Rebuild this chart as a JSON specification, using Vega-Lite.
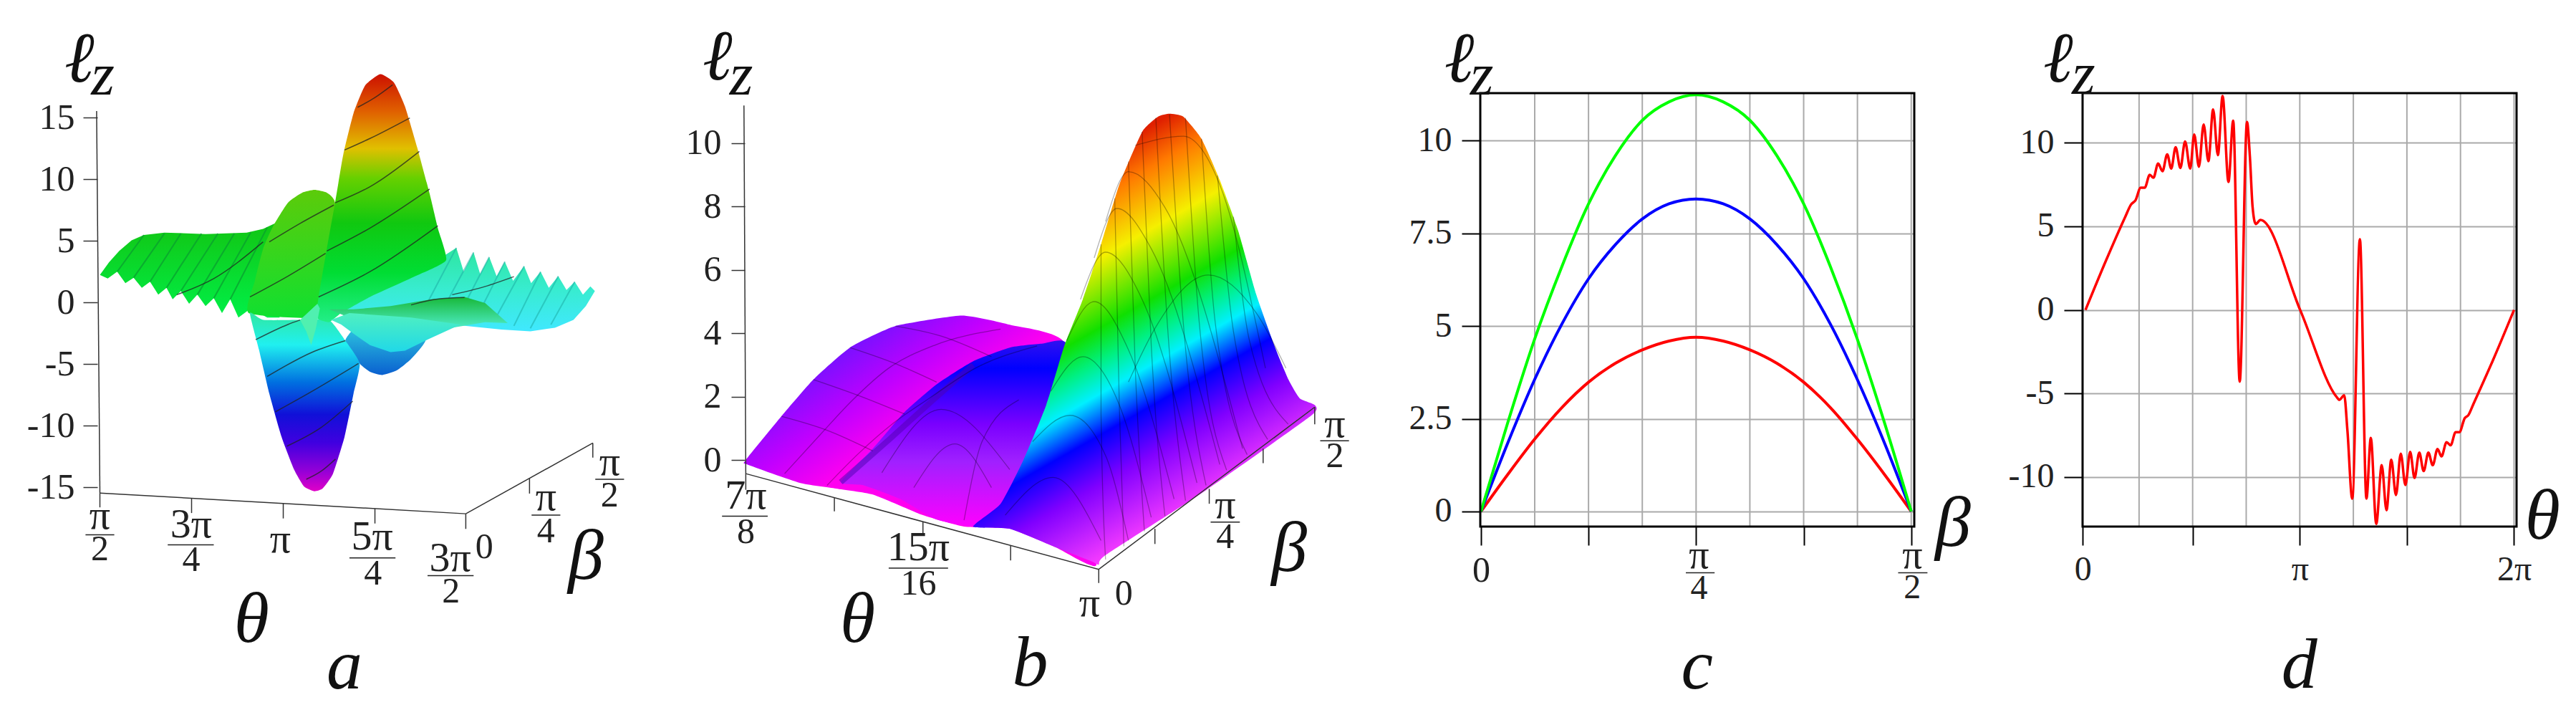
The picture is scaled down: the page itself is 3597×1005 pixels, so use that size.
{
  "$schema": "https://vega.github.io/schema/vega-lite/v6.json",
  "background": "white",
  "padding": {"left": 0, "top": 31, "right": 0, "bottom": 0},
  "bounds": "flush",
  "spacing": 235,
  "config": {
    "font": "Liberation Serif",
    "view": {"stroke": null},
    "axis": {"labelFont": "Liberation Serif", "labelFontSize": 50, "labelColor": "#222", "domain": false, "grid": false, "title": null, "labelExpr": "''+datum.value", "labelOverlap": false, "labelBound": false, "labelFlush": false}
  },
  "datasets": {
    "a_left": [{"u":24.3,"v":2.24},{"u":26.5,"v":3.25},{"u":29,"v":4.18},{"u":32,"v":5.04},{"u":35,"v":5.48},{"u":40,"v":5.67},{"u":50,"v":5.56},{"u":60,"v":5.67},{"u":64,"v":5.97},{"u":68,"v":6.6},{"u":68,"v":-1.23},{"u":65,"v":-1.23},{"u":61,"v":-0.48},{"u":58,"v":-1.23},{"u":56,"v":0.26},{"u":54,"v":-0.86},{"u":52,"v":0.34},{"u":50,"v":-0.3},{"u":48,"v":0.63},{"u":46,"v":-0.11},{"u":44,"v":0.93},{"u":42,"v":0.26},{"u":40.5,"v":1.19},{"u":38.5,"v":0.63},{"u":36.5,"v":1.68},{"u":34.5,"v":1.19},{"u":32.5,"v":2.01},{"u":30.5,"v":1.57},{"u":28.5,"v":2.5},{"u":26.2,"v":1.94}],
    "a_back": [{"u":60.5,"v":-0.86},{"u":62,"v":1.75},{"u":64,"v":4.36},{"u":66.5,"v":6.23},{"u":70,"v":8.09},{"u":73.5,"v":8.91},{"u":76.5,"v":9.14},{"u":79.5,"v":8.91},{"u":81.5,"v":8.09},{"u":81.5,"v":3.62},{"u":79,"v":0.63},{"u":77,"v":-1.23}],
    "a_right": [{"u":108,"v":3.8},{"u":111,"v":4.44},{"u":112.8,"v":2.5},{"u":115.2,"v":4.07},{"u":116.8,"v":2.31},{"u":119,"v":3.69},{"u":120.8,"v":2.13},{"u":122.8,"v":3.32},{"u":124.8,"v":1.75},{"u":127.5,"v":2.95},{"u":129.2,"v":1.57},{"u":131.5,"v":2.5},{"u":133.5,"v":1.19},{"u":135.8,"v":2.13},{"u":137.8,"v":1.01},{"u":139.8,"v":1.68},{"u":141.8,"v":0.63},{"u":143.6,"v":1.31},{"u":144.7,"v":0.93},{"u":142.5,"v":-0.3},{"u":139.5,"v":-1.42},{"u":135,"v":-2.05},{"u":129,"v":-2.35},{"u":122,"v":-2.2},{"u":110,"v":-1.79},{"u":95,"v":-1.23},{"u":85,"v":-0.86},{"u":80,"v":-0.48},{"u":100,"v":2.13}],
    "a_main": [{"u":77,"v":-1.23},{"u":77.5,"v":0.45},{"u":79.5,"v":4.36},{"u":81.5,"v":8.09},{"u":83.5,"v":12.01},{"u":86,"v":15.37},{"u":88.8,"v":17.61},{"u":92.5,"v":18.54},{"u":95.8,"v":17.87},{"u":98.5,"v":15.93},{"u":101.5,"v":12.57},{"u":104.5,"v":8.84},{"u":106.5,"v":6.04},{"u":108.5,"v":3.43},{"u":101,"v":2.13},{"u":90,"v":0.45},{"u":83,"v":-0.86},{"u":80,"v":-1.6}],
    "a_smallneg": [{"u":84,"v":-3.1},{"u":87.5,"v":-4.96},{"u":90,"v":-5.63},{"u":93,"v":-5.89},{"u":96.5,"v":-5.52},{"u":100,"v":-4.59},{"u":103.5,"v":-3.02},{"u":96,"v":-2.35},{"u":88,"v":-1.6}],
    "a_neg": [{"u":60.8,"v":-0.86},{"u":64,"v":-1.42},{"u":73,"v":-1.42},{"u":80,"v":-1.42},{"u":84,"v":-3.1},{"u":87.5,"v":-4.96},{"u":86,"v":-7.39},{"u":83.8,"v":-10.93},{"u":81,"v":-13.91},{"u":78.5,"v":-15.1},{"u":76.5,"v":-15.33},{"u":74,"v":-14.96},{"u":71.5,"v":-13.54},{"u":68.5,"v":-10.93},{"u":65.5,"v":-7.39},{"u":63,"v":-3.84}],
    "a_spike": [{"u":73,"v":-1.42},{"u":74.5,"v":-2.35},{"u":75.7,"v":-3.47},{"u":76.8,"v":-2.16},{"u":77.8,"v":-0.48},{"u":77.2,"v":-0.11}],
    "a_flapgreen": [{"u":80,"v":-0.56},{"u":86,"v":-0.56},{"u":95,"v":-0.3},{"u":105,"v":0.26},{"u":113,"v":0.45},{"u":118,"v":-0.04},{"u":123.5,"v":-1.68},{"u":118,"v":-1.6},{"u":110,"v":-2.05},{"u":100,"v":-2.16},{"u":90,"v":-1.9}],
    "a_flapteal": [{"u":80.5,"v":-1.42},{"u":85,"v":-0.86},{"u":100,"v":-1.23},{"u":112,"v":-1.79},{"u":104,"v":-3.02},{"u":98.5,"v":-3.92},{"u":95,"v":-4.03},{"u":90,"v":-3.47},{"u":86,"v":-2.54},{"u":83,"v":-1.79}],
    "a_ridges": [{"id":1,"u":28.5,"v":2.5},{"id":1,"u":35,"v":5.48},{"id":2,"u":32.5,"v":2.01},{"id":2,"u":40,"v":5.6},{"id":3,"u":36.5,"v":1.68},{"id":3,"u":44,"v":5.6},{"id":4,"u":40.5,"v":1.19},{"id":4,"u":49,"v":5.6},{"id":5,"u":44,"v":0.93},{"id":5,"u":53,"v":5.6},{"id":6,"u":48,"v":0.63},{"id":6,"u":57,"v":5.6},{"id":7,"u":52,"v":0.34},{"id":7,"u":61,"v":5.7},{"id":8,"u":56,"v":0.26},{"id":8,"u":65,"v":6.1}],
    "a_ridgesright": [{"id":1,"u":111,"v":4.44},{"id":1,"u":104,"v":0},{"id":2,"u":115.2,"v":4.07},{"id":2,"u":108,"v":-0.4},{"id":3,"u":119,"v":3.69},{"id":3,"u":112,"v":-0.8},{"id":4,"u":122.8,"v":3.32},{"id":4,"u":116,"v":-1.2},{"id":5,"u":127.5,"v":2.95},{"id":5,"u":120,"v":-1.6},{"id":6,"u":131.5,"v":2.5},{"id":6,"u":125,"v":-1.9},{"id":7,"u":135.8,"v":2.13},{"id":7,"u":129,"v":-2.1},{"id":8,"u":139.8,"v":1.68},{"id":8,"u":134,"v":-1.8}],
    "a_iso": [{"id":1,"u":87,"v":15.85},{"id":1,"u":91,"v":16.6},{"id":1,"u":95.5,"v":17.68},{"id":2,"u":83.8,"v":12.38},{"id":2,"u":90,"v":13.32},{"id":2,"u":99.7,"v":14.99},{"id":3,"u":81.5,"v":8.09},{"id":3,"u":90,"v":9.4},{"id":3,"u":102,"v":12.27},{"id":4,"u":79.5,"v":4.18},{"id":4,"u":90,"v":6.04},{"id":4,"u":104.5,"v":9.21},{"id":5,"u":77.5,"v":0.45},{"id":5,"u":90,"v":2.5},{"id":5,"u":106.5,"v":6.23},{"id":6,"u":65.5,"v":4.92},{"id":6,"u":73,"v":6.42},{"id":6,"u":81.2,"v":7.91},{"id":7,"u":60.8,"v":0.45},{"id":7,"u":70,"v":2.13},{"id":7,"u":79.2,"v":3.99},{"id":8,"u":62.2,"v":-3.02},{"id":8,"u":70,"v":-1.79},{"id":8,"u":73,"v":-1.42},{"id":9,"u":65,"v":-6.01},{"id":9,"u":76,"v":-4.03},{"id":9,"u":84,"v":-3.1},{"id":10,"u":67,"v":-8.88},{"id":10,"u":76,"v":-7.2},{"id":10,"u":87.2,"v":-4.96},{"id":11,"u":69.8,"v":-11.67},{"id":11,"u":78,"v":-10.18},{"id":11,"u":85.8,"v":-8.02},{"id":12,"u":74.5,"v":-14.36},{"id":12,"u":78,"v":-13.73},{"id":12,"u":81.6,"v":-12.72},{"id":13,"u":43,"v":0.63},{"id":13,"u":52,"v":1.94},{"id":13,"u":64,"v":4.92},{"id":14,"u":110,"v":0.63},{"id":14,"u":118,"v":1.3},{"id":14,"u":125,"v":2.1},{"id":15,"u":100,"v":-0.2},{"id":15,"u":107,"v":0.3},{"id":15,"u":113,"v":0.4}],
    "a_axes": [{"id":"z","u":23.5,"v":15.55},{"id":"z","u":24.3,"v":-15.48},{"id":"th","u":24.3,"v":-15.48},{"id":"th","u":113.3,"v":-17.16},{"id":"be","u":113.3,"v":-17.16},{"id":"be","u":144.2,"v":-11.42},{"id":"t1","u":24.3,"v":-15.48},{"id":"t1","u":24.3,"v":-16.64},{"id":"t2","u":46.6,"v":-15.9},{"id":"t2","u":46.6,"v":-17.1},{"id":"t3","u":68.9,"v":-16.33},{"id":"t3","u":68.9,"v":-17.54},{"id":"t4","u":91.2,"v":-16.74},{"id":"t4","u":91.2,"v":-17.95},{"id":"t5","u":113.3,"v":-17.16},{"id":"t5","u":113.3,"v":-18.39},{"id":"b2","u":128.8,"v":-14.29},{"id":"b2","u":128.8,"v":-15.52},{"id":"b3","u":144.2,"v":-11.42},{"id":"b3","u":144.2,"v":-12.6}],
    "a_bars": [{"u":20.8,"u2":27.8,"v":-18.87},{"u":40.8,"u2":52,"v":-19.69},{"u":85,"u2":96.2,"v":-20.74},{"u":104,"u2":115.2,"v":-22.19},{"u":129.3,"u2":136.3,"v":-17.27},{"u":144.8,"u2":151.8,"v":-14.36}],
    "a_labels": [{"t":"π","u":24.3,"v":-17.4},{"t":"2","u":24.3,"v":-20.07},{"t":"3π","u":46.5,"v":-18.1},{"t":"4","u":46.5,"v":-20.93},{"t":"π","u":68.2,"v":-19.3},{"t":"5π","u":90.5,"v":-19.1},{"t":"4","u":90.7,"v":-22.04},{"t":"3π","u":109.5,"v":-20.8},{"t":"2","u":109.7,"v":-23.5},{"t":"0","u":117.8,"v":-19.88},{"t":"π","u":132.8,"v":-15.9},{"t":"4","u":132.8,"v":-18.58},{"t":"π","u":148.3,"v":-13},{"t":"2","u":148.3,"v":-15.7}],
    "a_syms": [{"t":"ℓ","u":19.3,"v":19.66},{"t":"z","u":25,"v":18.35},{"t":"θ","u":61.2,"v":-25.85},{"t":"β","u":142.5,"v":-20.7},{"t":"a","u":83.8,"v":-29.6}],
    "b_base": [{"u":22.2,"v":0},{"u":30,"v":1.38},{"u":37,"v":2.54},{"u":45,"v":3.55},{"u":55,"v":4.23},{"u":69.5,"v":4.56},{"u":80,"v":4.27},{"u":92,"v":3.69},{"u":90,"v":0},{"u":99,"v":-3.3},{"u":90,"v":-2.75},{"u":80,"v":-2.17},{"u":70,"v":-2.1},{"u":61,"v":-1.74},{"u":50,"v":-1.09},{"u":42,"v":-0.9},{"u":34,"v":-0.72},{"u":22.5,"v":-0.14}],
    "b_hump": [{"u":43,"v":-0.7},{"u":50,"v":0.36},{"u":57,"v":1.52},{"u":64,"v":2.39},{"u":72,"v":3.12},{"u":80,"v":3.55},{"u":87,"v":3.67},{"u":92.5,"v":3.62},{"u":90,"v":0},{"u":88,"v":-0.72},{"u":78,"v":-1.45},{"u":73,"v":-2.1},{"u":64,"v":-1.88},{"u":56,"v":-1.23},{"u":48,"v":-0.8}],
    "b_shadow": [{"u":43,"v":-0.7},{"u":54,"v":0.7},{"u":62,"v":1.74},{"u":72,"v":3}],
    "b_peak": [{"u":72,"v":-2.1},{"u":78,"v":-1.38},{"u":83,"v":0},{"u":88,"v":1.74},{"u":92,"v":3.62},{"u":96,"v":5.07},{"u":100,"v":6.81},{"u":104,"v":8.69},{"u":109,"v":10.36},{"u":112.5,"v":10.84},{"u":115,"v":10.93},{"u":118,"v":10.84},{"u":122,"v":10.14},{"u":126,"v":8.84},{"u":130,"v":7.25},{"u":134,"v":5.22},{"u":138,"v":3.6},{"u":141,"v":2.55},{"u":143.5,"v":1.95},{"u":146.8,"v":1.74},{"u":146,"v":1.4},{"u":123,"v":-0.95},{"u":101,"v":-3},{"u":99.5,"v":-3.3},{"u":98,"v":-3.2},{"u":90,"v":-2.75},{"u":80,"v":-2.17}],
    "b_mesh": [{"id":"a1","u":79,"v":-1.74},{"id":"a1","u":89.5,"v":-0.55},{"id":"a1","u":100,"v":-2.54},{"id":"a2","u":85,"v":0.58},{"id":"a2","u":93.2,"v":1.41},{"id":"a2","u":101,"v":0.14},{"id":"a2","u":106,"v":-2.54},{"id":"a3","u":89,"v":2.17},{"id":"a3","u":96,"v":3.26},{"id":"a3","u":104,"v":1.74},{"id":"a3","u":111,"v":-1.81},{"id":"a4","u":92.5,"v":3.77},{"id":"a4","u":98.5,"v":5},{"id":"a4","u":106,"v":3.48},{"id":"a4","u":116,"v":-1.23},{"id":"a5","u":95.5,"v":5.07},{"id":"a5","u":101,"v":6.56},{"id":"a5","u":109,"v":5.07},{"id":"a5","u":121,"v":-0.72},{"id":"a6","u":98.5,"v":6.38},{"id":"a6","u":103.5,"v":7.94},{"id":"a6","u":111,"v":6.67},{"id":"a6","u":126,"v":-0.14},{"id":"a7","u":101,"v":7.53},{"id":"a7","u":106,"v":9.1},{"id":"a7","u":114,"v":7.97},{"id":"a7","u":131,"v":0.36},{"id":"a8","u":107.5,"v":9.93},{"id":"a8","u":118,"v":10.22},{"id":"a8","u":126,"v":8.69},{"id":"a8","u":136,"v":2.9},{"id":"a9","u":106,"v":2.46},{"id":"a9","u":112,"v":4.2},{"id":"a9","u":123.5,"v":5.84},{"id":"a9","u":134,"v":4.64},{"id":"a9","u":140.5,"v":2.9},{"id":"m1","u":100,"v":6.81},{"id":"m1","u":100,"v":1.45},{"id":"m1","u":101,"v":-3.14},{"id":"m2","u":103,"v":8.26},{"id":"m2","u":104,"v":1.74},{"id":"m2","u":105,"v":-2.72},{"id":"m3","u":106,"v":9.42},{"id":"m3","u":107.5,"v":2.9},{"id":"m3","u":109.5,"v":-2.25},{"id":"m4","u":109,"v":10.36},{"id":"m4","u":111,"v":3.62},{"id":"m4","u":114,"v":-1.77},{"id":"m5","u":112,"v":10.8},{"id":"m5","u":114.5,"v":4.35},{"id":"m5","u":118.5,"v":-1.28},{"id":"m6","u":115,"v":10.91},{"id":"m6","u":118,"v":4.35},{"id":"m6","u":123,"v":-0.8},{"id":"m7","u":118.5,"v":10.8},{"id":"m7","u":121.5,"v":4.35},{"id":"m7","u":127.5,"v":-0.32},{"id":"m8","u":122,"v":10.14},{"id":"m8","u":125,"v":4.35},{"id":"m8","u":132,"v":0.17},{"id":"m9","u":125.5,"v":8.98},{"id":"m9","u":129,"v":4.06},{"id":"m9","u":136.5,"v":0.65},{"id":"m10","u":129,"v":7.68},{"id":"m10","u":132.5,"v":3.77},{"id":"m10","u":141,"v":1.13},{"id":"l1","u":30.7,"v":-0.43},{"id":"l1","u":38.5,"v":0.8},{"id":"l1","u":45.5,"v":1.88},{"id":"l1","u":53.5,"v":2.9},{"id":"l1","u":63.5,"v":3.62},{"id":"l1","u":78,"v":4.13},{"id":"l2","u":40,"v":-0.8},{"id":"l2","u":47,"v":0.22},{"id":"l2","u":54.5,"v":1.16},{"id":"l2","u":62.5,"v":1.96},{"id":"l2","u":72.5,"v":2.9},{"id":"l2","u":86,"v":3.6},{"id":"c1","u":30,"v":1.38},{"id":"c1","u":40,"v":0.94},{"id":"c1","u":50,"v":0.29},{"id":"c2","u":37,"v":2.54},{"id":"c2","u":47,"v":2.03},{"id":"c2","u":57,"v":1.45},{"id":"c3","u":45,"v":3.55},{"id":"c3","u":55,"v":3.04},{"id":"c3","u":64,"v":2.46},{"id":"c4","u":55,"v":4.23},{"id":"c4","u":65,"v":3.91},{"id":"c4","u":76,"v":3.26},{"id":"h1","u":59,"v":-0.87},{"id":"h1","u":68,"v":0.51},{"id":"h1","u":76,"v":-0.87},{"id":"h2","u":52,"v":-0.4},{"id":"h2","u":65,"v":1.6},{"id":"h2","u":80,"v":-0.3},{"id":"h3","u":70,"v":-1.9},{"id":"h3","u":74,"v":0.6},{"id":"h3","u":82,"v":1.9}],
    "b_axes": [{"id":"z","u":21.8,"v":11.19},{"id":"z","u":22.2,"v":-0.43},{"id":"th","u":22.2,"v":-0.43},{"id":"th","u":99.5,"v":-3.45},{"id":"be","u":99.5,"v":-3.45},{"id":"be","u":146.8,"v":1.67},{"id":"t1","u":22.2,"v":-0.43},{"id":"t1","u":22.2,"v":-0.94},{"id":"t2","u":41.6,"v":-1.19},{"id":"t2","u":41.6,"v":-1.62},{"id":"t3","u":61,"v":-1.96},{"id":"t3","u":61,"v":-2.39},{"id":"t4","u":80.2,"v":-2.71},{"id":"t4","u":80.2,"v":-3.17},{"id":"t5","u":99.5,"v":-3.45},{"id":"t5","u":99.5,"v":-3.88},{"id":"b1","u":111.8,"v":-2.17},{"id":"b1","u":111.8,"v":-2.65},{"id":"b2","u":123.7,"v":-0.91},{"id":"b2","u":123.7,"v":-1.38},{"id":"b3","u":135.5,"v":0.36},{"id":"b3","u":135.5,"v":-0.1},{"id":"b4","u":146.8,"v":1.67},{"id":"b4","u":146.8,"v":1.13}],
    "b_bars": [{"u":17,"u2":27,"v":-1.77},{"u":53.5,"u2":66.5,"v":-3.41},{"u":124,"u2":130.4,"v":-1.96},{"u":148,"u2":154.3,"v":0.61}],
    "b_labels": [{"t":"7π","u":22.2,"v":-1.15},{"t":"8","u":22.2,"v":-2.29},{"t":"15π","u":60,"v":-2.78},{"t":"16","u":60,"v":-3.91},{"t":"π","u":97.5,"v":-4.55},{"t":"0","u":105,"v":-4.23},{"t":"π","u":127.2,"v":-1.44},{"t":"4","u":127.2,"v":-2.43},{"t":"π","u":151.2,"v":1.1},{"t":"2","u":151.2,"v":0.12}],
    "b_syms": [{"t":"ℓ","u":16,"v":12.68},{"t":"z","u":21.2,"v":12.1},{"t":"θ","u":46.7,"v":-5.07},{"t":"β","u":141.2,"v":-2.83},{"t":"b","u":84.5,"v":-6.45}],
    "c_frame": [{"beta":-0.0024,"beta2":1.5819,"lz":-0.406,"lz2":11.285}],
    "c_grid": [{"beta":0.1963,"lz":-0.4,"lz2":11.28},{"beta":0.3927,"lz":-0.4,"lz2":11.28},{"beta":0.589,"lz":-0.4,"lz2":11.28},{"beta":0.7854,"lz":-0.4,"lz2":11.28},{"beta":0.9817,"lz":-0.4,"lz2":11.28},{"beta":1.1781,"lz":-0.4,"lz2":11.28},{"beta":1.3744,"lz":-0.4,"lz2":11.28},{"beta":1.5708,"lz":-0.4,"lz2":11.28}],
    "c_curves": [{"curve":"red","beta":0,"lz":0},{"curve":"red","beta":0.098,"lz":1},{"curve":"red","beta":0.196,"lz":1.95},{"curve":"red","beta":0.295,"lz":2.8},{"curve":"red","beta":0.393,"lz":3.49},{"curve":"red","beta":0.491,"lz":4},{"curve":"red","beta":0.589,"lz":4.36},{"curve":"red","beta":0.687,"lz":4.6},{"curve":"red","beta":0.785,"lz":4.7},{"curve":"red","beta":0.884,"lz":4.6},{"curve":"red","beta":0.982,"lz":4.36},{"curve":"red","beta":1.08,"lz":4},{"curve":"red","beta":1.178,"lz":3.49},{"curve":"red","beta":1.276,"lz":2.8},{"curve":"red","beta":1.374,"lz":1.95},{"curve":"red","beta":1.473,"lz":1},{"curve":"red","beta":1.571,"lz":0},
      {"curve":"blue","beta":0,"lz":0},{"curve":"blue","beta":0.098,"lz":1.85},{"curve":"blue","beta":0.196,"lz":3.56},{"curve":"blue","beta":0.295,"lz":5.05},{"curve":"blue","beta":0.393,"lz":6.28},{"curve":"blue","beta":0.491,"lz":7.2},{"curve":"blue","beta":0.589,"lz":7.89},{"curve":"blue","beta":0.687,"lz":8.3},{"curve":"blue","beta":0.785,"lz":8.43},{"curve":"blue","beta":0.884,"lz":8.3},{"curve":"blue","beta":0.982,"lz":7.89},{"curve":"blue","beta":1.08,"lz":7.2},{"curve":"blue","beta":1.178,"lz":6.28},{"curve":"blue","beta":1.276,"lz":5.05},{"curve":"blue","beta":1.374,"lz":3.56},{"curve":"blue","beta":1.473,"lz":1.85},{"curve":"blue","beta":1.571,"lz":0},
      {"curve":"green","beta":0,"lz":0},{"curve":"green","beta":0.098,"lz":2.4},{"curve":"green","beta":0.196,"lz":4.65},{"curve":"green","beta":0.295,"lz":6.6},{"curve":"green","beta":0.393,"lz":8.3},{"curve":"green","beta":0.491,"lz":9.6},{"curve":"green","beta":0.589,"lz":10.55},{"curve":"green","beta":0.687,"lz":11.05},{"curve":"green","beta":0.785,"lz":11.24},{"curve":"green","beta":0.884,"lz":11.05},{"curve":"green","beta":0.982,"lz":10.55},{"curve":"green","beta":1.08,"lz":9.6},{"curve":"green","beta":1.178,"lz":8.3},{"curve":"green","beta":1.276,"lz":6.6},{"curve":"green","beta":1.374,"lz":4.65},{"curve":"green","beta":1.473,"lz":2.4},{"curve":"green","beta":1.571,"lz":0}],
    "c_bars": [{"beta":0.748,"beta2":0.853,"lz":-1.65},{"beta":1.523,"beta2":1.63,"lz":-1.65}],
    "c_labels": [{"t":"π","beta":0.796,"lz":-1.2},{"t":"4","beta":0.796,"lz":-2.08},{"t":"π","beta":1.575,"lz":-1.2},{"t":"2","beta":1.575,"lz":-2.06}],
    "c_syms": [{"t":"ℓ","beta":-0.0795,"lz":12.17},{"t":"z","beta":0.003,"lz":11.73},{"t":"β","beta":1.723,"lz":-0.35},{"t":"c","beta":0.789,"lz":-4.2}],
    "d_frame": [{"theta":-0.043,"theta2":6.32,"lz":-12.96,"lz2":12.97}],
    "d_grid": [{"theta":0.7854,"lz":-12.95,"lz2":12.96},{"theta":1.5708,"lz":-12.95,"lz2":12.96},{"theta":2.3562,"lz":-12.95,"lz2":12.96},{"theta":3.1416,"lz":-12.95,"lz2":12.96},{"theta":3.927,"lz":-12.95,"lz2":12.96},{"theta":4.7124,"lz":-12.95,"lz2":12.96},{"theta":5.4978,"lz":-12.95,"lz2":12.96},{"theta":6.2832,"lz":-12.95,"lz2":12.96}],
    "d_curve": [{"theta":0,"lz":0},{"theta":0.3,"lz":2.95},{"theta":0.586,"lz":5.6},{"theta":0.665,"lz":6.29},{"theta":0.734,"lz":6.57},{"theta":0.809,"lz":7.31},{"theta":0.868,"lz":7.31},{"theta":0.942,"lz":8.08},{"theta":0.996,"lz":7.91},{"theta":1.065,"lz":8.76},{"theta":1.129,"lz":8.3},{"theta":1.198,"lz":9.31},{"theta":1.257,"lz":8.46},{"theta":1.321,"lz":9.73},{"theta":1.391,"lz":8.49},{"theta":1.46,"lz":10.08},{"theta":1.535,"lz":8.46},{"theta":1.594,"lz":10.49},{"theta":1.663,"lz":8.57},{"theta":1.732,"lz":11.1},{"theta":1.802,"lz":8.9},{"theta":1.871,"lz":12},{"theta":1.941,"lz":9.26},{"theta":2.01,"lz":12.8},{"theta":2.096,"lz":7.66},{"theta":2.165,"lz":11.32},{"theta":2.261,"lz":-4.29},{"theta":2.368,"lz":11.24},{"theta":2.41,"lz":9.18},{"theta":2.45,"lz":6.15},{"theta":2.496,"lz":5.14},{"theta":2.565,"lz":5.38},{"theta":3.147,"lz":0},{"theta":3.69,"lz":-5.25},{"theta":3.72,"lz":-5.38},{"theta":3.793,"lz":-5.11},{"theta":3.84,"lz":-7.2},{"theta":3.911,"lz":-11.29},{"theta":4.023,"lz":4.23},{"theta":4.119,"lz":-11.29},{"theta":4.183,"lz":-7.66},{"theta":4.263,"lz":-12.8},{"theta":4.343,"lz":-9.29},{"theta":4.413,"lz":-11.98},{"theta":4.483,"lz":-8.96},{"theta":4.552,"lz":-11.07},{"theta":4.622,"lz":-8.6},{"theta":4.69,"lz":-10.47},{"theta":4.76,"lz":-8.49},{"theta":4.824,"lz":-10.05},{"theta":4.894,"lz":-8.54},{"theta":4.958,"lz":-9.64},{"theta":5.027,"lz":-8.54},{"theta":5.091,"lz":-9.29},{"theta":5.161,"lz":-8.32},{"theta":5.219,"lz":-8.76},{"theta":5.294,"lz":-7.91},{"theta":5.353,"lz":-8.1},{"theta":5.427,"lz":-7.31},{"theta":5.481,"lz":-7.31},{"theta":5.56,"lz":-6.48},{"theta":5.614,"lz":-6.29},{"theta":5.684,"lz":-5.66},{"theta":5.98,"lz":-2.95},{"theta":6.283,"lz":0}],
    "d_syms": [{"t":"ℓ","theta":-0.403,"lz":14.95},{"t":"z","theta":-0.03,"lz":13.98},{"t":"θ","theta":6.7,"lz":-12.39},{"t":"d","theta":3.136,"lz":-21.3}]
  },
  "hconcat": [
    {
      "width": 800,
      "height": 605,
      "encoding": {
        "x": {"field": "u", "type": "quantitative", "axis": null, "scale": {"domain": [0, 139.36], "nice": false, "zero": false}},
        "y": {"field": "v", "type": "quantitative", "scale": {"domain": [-18.2, 17], "nice": false, "zero": false},
          "axis": {"values": [-15, -10, -5, 0, 5, 10, 15], "offset": -136, "tickSize": 20, "tickColor": "#333", "tickWidth": 1.5, "labelPadding": 12}}
      },
      "layer": [
        {"data": {"name": "a_left"}, "transform": [{"window": [{"op": "row_number", "as": "i"}]}], "mark": {"type": "line", "strokeWidth": 0, "fill": {"gradient": "linear", "x1": 0, "y1": 0, "x2": 0, "y2": 1, "stops": [{"offset": 0, "color": "#12c412"}, {"offset": 1, "color": "#00f048"}]}}, "encoding": {"order": {"field": "i"}}},
        {"data": {"name": "a_ridges"}, "mark": {"type": "line", "stroke": "#0a9a30", "strokeWidth": 2, "opacity": 0.7}, "encoding": {"detail": {"field": "id"}}},
        {"data": {"name": "a_right"}, "transform": [{"window": [{"op": "row_number", "as": "i"}]}], "mark": {"type": "line", "strokeWidth": 0, "fill": {"gradient": "linear", "x1": 0, "y1": 0, "x2": 0, "y2": 1, "stops": [{"offset": 0, "color": "#2ee6a0"}, {"offset": 0.5, "color": "#38ecd0"}, {"offset": 1, "color": "#40e8ff"}]}}, "encoding": {"order": {"field": "i"}}},
        {"data": {"name": "a_ridgesright"}, "mark": {"type": "line", "stroke": "#1aa8a0", "strokeWidth": 2, "opacity": 0.5}, "encoding": {"detail": {"field": "id"}}},
        {"data": {"name": "a_back"}, "transform": [{"window": [{"op": "row_number", "as": "i"}]}], "mark": {"type": "line", "strokeWidth": 0, "interpolate": "cardinal-closed", "tension": 0.5, "fill": {"gradient": "linear", "x1": 0, "y1": 0, "x2": 0, "y2": 1, "stops": [{"offset": 0, "color": "#5ccb0a"}, {"offset": 1, "color": "#10e030"}]}}, "encoding": {"order": {"field": "i"}}},
        {"data": {"name": "a_smallneg"}, "transform": [{"window": [{"op": "row_number", "as": "i"}]}], "mark": {"type": "line", "strokeWidth": 0, "interpolate": "cardinal-closed", "tension": 0.5, "fill": {"gradient": "linear", "x1": 0, "y1": 0, "x2": 0, "y2": 1, "stops": [{"offset": 0, "color": "#30d0e0"}, {"offset": 1, "color": "#0a60d0"}]}}, "encoding": {"order": {"field": "i"}}},
        {"data": {"name": "a_neg"}, "transform": [{"window": [{"op": "row_number", "as": "i"}]}], "mark": {"type": "line", "strokeWidth": 0, "interpolate": "cardinal-closed", "tension": 0.5, "fill": {"gradient": "linear", "x1": 0, "y1": 0, "x2": 0, "y2": 1, "stops": [{"offset": 0, "color": "#30e8a0"}, {"offset": 0.18, "color": "#20f0f0"}, {"offset": 0.39, "color": "#0070e0"}, {"offset": 0.57, "color": "#1010d8"}, {"offset": 0.73, "color": "#4000e0"}, {"offset": 0.88, "color": "#9000d8"}, {"offset": 1, "color": "#e000c8"}]}}, "encoding": {"order": {"field": "i"}}},
        {"data": {"name": "a_main"}, "transform": [{"window": [{"op": "row_number", "as": "i"}]}], "mark": {"type": "line", "strokeWidth": 0, "interpolate": "cardinal-closed", "tension": 0.5, "fill": {"gradient": "linear", "x1": 0, "y1": 0, "x2": 0, "y2": 1, "stops": [{"offset": 0, "color": "#cc1100"}, {"offset": 0.15, "color": "#e06000"}, {"offset": 0.3, "color": "#e0c000"}, {"offset": 0.42, "color": "#66d000"}, {"offset": 0.6, "color": "#10c810"}, {"offset": 0.8, "color": "#00dd33"}, {"offset": 1, "color": "#22ee88"}]}}, "encoding": {"order": {"field": "i"}}},
        {"data": {"name": "a_spike"}, "transform": [{"window": [{"op": "row_number", "as": "i"}]}], "mark": {"type": "line", "strokeWidth": 0, "fill": "#50f0b0"}, "encoding": {"order": {"field": "i"}}},
        {"data": {"name": "a_flapgreen"}, "transform": [{"window": [{"op": "row_number", "as": "i"}]}], "mark": {"type": "line", "strokeWidth": 0, "fill": {"gradient": "linear", "x1": 0, "y1": 0, "x2": 0, "y2": 1, "stops": [{"offset": 0, "color": "#18b838"}, {"offset": 1, "color": "#50eecc"}]}}, "encoding": {"order": {"field": "i"}}},
        {"data": {"name": "a_flapteal"}, "transform": [{"window": [{"op": "row_number", "as": "i"}]}], "mark": {"type": "line", "strokeWidth": 0, "fill": {"gradient": "linear", "x1": 0, "y1": 0, "x2": 0, "y2": 1, "stops": [{"offset": 0, "color": "#50f0c0"}, {"offset": 1, "color": "#20d8e8"}]}}, "encoding": {"order": {"field": "i"}}},
        {"data": {"name": "a_iso"}, "mark": {"type": "line", "stroke": "#222", "strokeWidth": 1.5, "opacity": 0.75, "interpolate": "monotone"}, "encoding": {"detail": {"field": "id"}}},
        {"data": {"name": "a_axes"}, "mark": {"type": "line", "stroke": "#333", "strokeWidth": 1.5}, "encoding": {"detail": {"field": "id"}}},
        {"data": {"name": "a_bars"}, "mark": {"type": "rule", "stroke": "#222", "strokeWidth": 1.5}, "encoding": {"x2": {"field": "u2"}}},
        {"data": {"name": "a_labels"}, "mark": {"type": "text", "fill": "#222", "baseline": "middle"}, "encoding": {"text": {"field": "t"}, "size": {"condition": {"test": "indexof(datum.t,'π')>=0", "value": 58}, "value": 50}}},
        {"data": {"name": "a_syms"}, "mark": {"type": "text", "fontStyle": "italic", "fill": "#111", "baseline": "middle"}, "encoding": {"text": {"field": "t"}, "size": {"condition": {"test": "datum.t=='z'", "value": 84}, "value": 100}}}
      ]
    },
    {
      "width": 797,
      "height": 605,
      "encoding": {
        "x": {"field": "u", "type": "quantitative", "axis": null, "scale": {"domain": [21.2, 146.2], "nice": false, "zero": false}},
        "y": {"field": "v", "type": "quantitative", "scale": {"domain": [-2.1, 11.58], "nice": false, "zero": false},
          "axis": {"values": [0, 2, 4, 6, 8, 10], "offset": -5, "tickSize": 19, "tickColor": "#333", "tickWidth": 1.5, "labelPadding": 14}}
      },
      "layer": [
        {"data": {"name": "b_base"}, "transform": [{"window": [{"op": "row_number", "as": "i"}]}], "mark": {"type": "line", "strokeWidth": 0, "interpolate": "cardinal-closed", "tension": 0.5, "fill": {"gradient": "linear", "x1": 0.297, "y1": 0.129, "x2": 0.544, "y2": 0.39, "stops": [{"offset": 0, "color": "#7a10ff"}, {"offset": 0.5, "color": "#c000ff"}, {"offset": 1, "color": "#ff00f0"}]}}, "encoding": {"order": {"field": "i"}}},
        {"data": {"name": "b_hump"}, "transform": [{"window": [{"op": "row_number", "as": "i"}]}], "mark": {"type": "line", "strokeWidth": 0, "interpolate": "cardinal-closed", "tension": 0.5, "fill": {"gradient": "linear", "x1": 0, "y1": 0, "x2": 0, "y2": 1, "stops": [{"offset": 0, "color": "#3010f0"}, {"offset": 0.15, "color": "#0000ff"}, {"offset": 0.45, "color": "#7a00ff"}, {"offset": 0.65, "color": "#a020ff"}, {"offset": 1, "color": "#ff00ff"}]}}, "encoding": {"order": {"field": "i"}}},
        {"data": {"name": "b_shadow"}, "mark": {"type": "line", "stroke": "#5000b0", "strokeWidth": 8, "opacity": 0.5, "interpolate": "monotone"}},
        {"data": {"name": "b_peak"}, "transform": [{"window": [{"op": "row_number", "as": "i"}]}], "mark": {"type": "line", "strokeWidth": 0, "interpolate": "cardinal-closed", "tension": 0.5, "fill": {"gradient": "linear", "x1": 0.58, "y1": 0, "x2": 0.913, "y2": 0.77, "stops": [{"offset": 0, "color": "#e02000"}, {"offset": 0.1, "color": "#ff7a00"}, {"offset": 0.25, "color": "#f5f000"}, {"offset": 0.42, "color": "#10e000"}, {"offset": 0.5, "color": "#00f080"}, {"offset": 0.58, "color": "#00f0ff"}, {"offset": 0.68, "color": "#0000ff"}, {"offset": 0.8, "color": "#8000ff"}, {"offset": 1, "color": "#ff40ff"}]}}, "encoding": {"order": {"field": "i"}}},
        {"data": {"name": "b_mesh"}, "mark": {"type": "line", "stroke": "#000", "strokeWidth": 1.3, "opacity": 0.3, "interpolate": "monotone"}, "encoding": {"detail": {"field": "id"}}},
        {"data": {"name": "b_axes"}, "mark": {"type": "line", "stroke": "#333", "strokeWidth": 1.5}, "encoding": {"detail": {"field": "id"}}},
        {"data": {"name": "b_bars"}, "mark": {"type": "rule", "stroke": "#222", "strokeWidth": 1.5}, "encoding": {"x2": {"field": "u2"}}},
        {"data": {"name": "b_labels"}, "mark": {"type": "text", "fill": "#222", "baseline": "middle"}, "encoding": {"text": {"field": "t"}, "size": {"condition": {"test": "indexof(datum.t,'π')>=0", "value": 58}, "value": 50}}},
        {"data": {"name": "b_syms"}, "mark": {"type": "text", "fontStyle": "italic", "fill": "#111", "baseline": "middle"}, "encoding": {"text": {"field": "t"}, "size": {"condition": {"test": "datum.t=='z'", "value": 84}, "value": 100}}}
      ]
    },
    {
      "width": 606,
      "height": 605,
      "encoding": {
        "x": {"field": "beta", "type": "quantitative", "scale": {"domain": [-0.0024, 1.5819], "nice": false, "zero": false},
          "axis": {"values": [0, 0.3927, 0.7854, 1.1781, 1.5708], "tickSize": 26, "tickColor": "#000", "tickWidth": 2, "labelExpr": "datum.value==0?'0':''", "labelPadding": 10}},
        "y": {"field": "lz", "type": "quantitative", "scale": {"domain": [-0.406, 11.285], "nice": false, "zero": false},
          "axis": {"values": [0, 2.5, 5, 7.5, 10], "tickSize": 26, "tickColor": "#000", "tickWidth": 2, "grid": true, "gridColor": "#aaa", "gridWidth": 2, "gridOpacity": 1, "labelFontSize": 48, "labelPadding": 14}}
      },
      "layer": [
        {"data": {"name": "c_grid"}, "mark": {"type": "rule", "stroke": "#aaa", "strokeWidth": 2}, "encoding": {"y2": {"field": "lz2"}}},
        {"data": {"name": "c_curves"}, "mark": {"type": "line", "strokeWidth": 4, "interpolate": "monotone"}, "encoding": {"color": {"field": "curve", "type": "nominal", "legend": null, "scale": {"domain": ["red", "blue", "green"], "range": ["#ff0000", "#0000ff", "#00ff00"]}}}},
        {"data": {"name": "c_frame"}, "mark": {"type": "rect", "fill": "transparent", "stroke": "#000", "strokeWidth": 3}, "encoding": {"x2": {"field": "beta2"}, "y2": {"field": "lz2"}}},
        {"data": {"name": "c_bars"}, "mark": {"type": "rule", "stroke": "#222", "strokeWidth": 1.5}, "encoding": {"x2": {"field": "beta2"}}},
        {"data": {"name": "c_labels"}, "mark": {"type": "text", "fill": "#222", "baseline": "middle"}, "encoding": {"text": {"field": "t"}, "size": {"condition": {"test": "indexof(datum.t,'π')>=0", "value": 56}, "value": 48}}},
        {"data": {"name": "c_syms"}, "mark": {"type": "text", "fontStyle": "italic", "fill": "#111", "baseline": "middle"}, "encoding": {"text": {"field": "t"}, "size": {"condition": {"test": "datum.t=='z'", "value": 84}, "value": 100}}}
      ]
    },
    {
      "width": 606,
      "height": 605,
      "encoding": {
        "x": {"field": "theta", "type": "quantitative", "scale": {"domain": [-0.043, 6.32], "nice": false, "zero": false},
          "axis": {"values": [-0.04, 1.5708, 3.1416, 4.7124, 6.2832], "tickSize": 26, "tickColor": "#000", "tickWidth": 2, "labelFontSize": 48, "labelExpr": "datum.value<0?'0':datum.value==3.1416?'π':datum.value==6.2832?'2π':''", "labelPadding": 10}},
        "y": {"field": "lz", "type": "quantitative", "scale": {"domain": [-12.96, 12.97], "nice": false, "zero": false},
          "axis": {"values": [-10, -5, 0, 5, 10], "tickSize": 26, "tickColor": "#000", "tickWidth": 2, "grid": true, "gridColor": "#aaa", "gridWidth": 2, "gridOpacity": 1, "labelFontSize": 48, "labelPadding": 14}}
      },
      "layer": [
        {"data": {"name": "d_grid"}, "mark": {"type": "rule", "stroke": "#aaa", "strokeWidth": 2}, "encoding": {"y2": {"field": "lz2"}}},
        {"data": {"name": "d_curve"}, "mark": {"type": "line", "stroke": "#ff0000", "strokeWidth": 3.5, "interpolate": "monotone"}},
        {"data": {"name": "d_frame"}, "mark": {"type": "rect", "fill": "transparent", "stroke": "#000", "strokeWidth": 3}, "encoding": {"x2": {"field": "theta2"}, "y2": {"field": "lz2"}}},
        {"data": {"name": "d_syms"}, "mark": {"type": "text", "fontStyle": "italic", "fill": "#111", "baseline": "middle"}, "encoding": {"text": {"field": "t"}, "size": {"condition": {"test": "datum.t=='z'", "value": 84}, "value": 100}}}
      ]
    }
  ]
}
